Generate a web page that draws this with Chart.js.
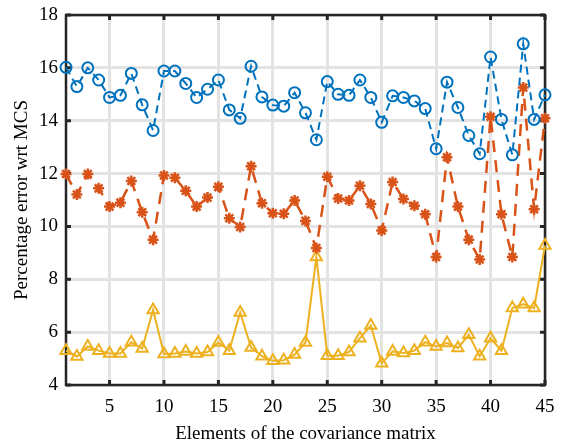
<!DOCTYPE html>
<html>
<head>
<meta charset="utf-8">
<script src="https://cdn.jsdelivr.net/npm/chart.js@4/dist/chart.umd.min.js"></script>
<style>
  html, body { margin: 0; padding: 0; background: #fff; }
  #wrap { width: 561px; height: 445px; }
</style>
</head>
<body>
<div id="wrap"><canvas id="err" width="561" height="445"></canvas></div>
<script>
// x = element index of the covariance matrix
let elements = []
for (let i = 1; i <= 45; i++) elements.push(i)

let blueErr = [16.02, 15.29, 16.0, 15.54, 14.88, 14.96, 15.79, 14.6, 13.63, 15.88,
  15.88, 15.41, 14.88, 15.19, 15.54, 14.41, 14.09, 16.06, 14.9, 14.59,
  14.55, 15.06, 14.3, 13.28, 15.48, 15.0, 14.96, 15.54, 14.88, 13.94,
  14.94, 14.88, 14.75, 14.46, 12.94, 15.46, 14.5, 13.44, 12.75, 16.41,
  14.05, 12.71, 16.91, 14.05, 14.98]

let orangeErr = [11.98, 11.21, 11.98, 11.44, 10.75, 10.9, 11.72, 10.54, 9.5, 11.93,
  11.84, 11.35, 10.75, 11.09, 11.5, 10.31, 9.98, 12.28, 10.88, 10.5,
  10.48, 10.98, 10.21, 9.18, 11.88, 11.06, 10.98, 11.54, 10.85, 9.85,
  11.68, 11.04, 10.78, 10.46, 8.84, 12.62, 10.75, 9.5, 8.75, 14.15,
  10.46, 8.84, 15.26, 10.65, 14.09]

let yellowErr = [5.3, 5.08, 5.46, 5.3, 5.19, 5.19, 5.62, 5.38, 6.84, 5.17,
  5.19, 5.27, 5.19, 5.25, 5.61, 5.3, 6.74, 5.42, 5.09, 4.92,
  4.94, 5.15, 5.61, 8.84, 5.11, 5.11, 5.25, 5.77, 6.25, 4.82,
  5.27, 5.21, 5.3, 5.62, 5.46, 5.59, 5.4, 5.9, 5.09, 5.77,
  5.3, 6.91, 7.06, 6.91, 9.28]

let xTicks = [5, 10, 15, 20, 25, 30, 35, 40, 45]
let yTicks = [4, 6, 8, 10, 12, 14, 16, 18]

function toPoints (vals) {
  return vals.map((v, i) => ({ x: elements[i], y: v }))
}

// MATLAB-like box with inward ticks on every side
const boxPlugin = {
  id: 'box',
  beforeDatasetsDraw (chart) {
    const { ctx, chartArea: a, scales } = chart
    ctx.save()
    ctx.strokeStyle = '#262626'
    ctx.lineWidth = 2.5
    ctx.strokeRect(a.left, a.top, a.right - a.left, a.bottom - a.top)
    ctx.lineWidth = 3
    const len = 5
    xTicks.forEach(t => {
      const px = scales.x.getPixelForValue(t)
      ctx.beginPath()
      ctx.moveTo(px, a.bottom); ctx.lineTo(px, a.bottom - len)
      ctx.moveTo(px, a.top); ctx.lineTo(px, a.top + len)
      ctx.stroke()
    })
    yTicks.forEach(t => {
      const py = scales.y.getPixelForValue(t)
      ctx.beginPath()
      ctx.moveTo(a.left, py); ctx.lineTo(a.left + len, py)
      ctx.moveTo(a.right, py); ctx.lineTo(a.right - len, py)
      ctx.stroke()
    })
    ctx.restore()
  }
}

const serif = 'Liberation Serif'

new Chart(document.getElementById('err').getContext('2d'), {
  type: 'line',
  data: {
    datasets: [
      {
        label: 'blue',
        data: toPoints(blueErr),
        borderColor: '#0072BD',
        borderWidth: 2,
        borderDash: [8, 5],
        pointStyle: 'circle',
        pointRadius: 5.5,
        pointBorderWidth: 2,
        pointBackgroundColor: 'rgba(0,0,0,0)',
        pointBorderColor: '#0072BD',
        tension: 0,
        clip: false
      },
      {
        label: 'orange',
        data: toPoints(orangeErr),
        borderColor: '#D95319',
        borderWidth: 2.5,
        borderDash: [12, 8],
        pointStyle: 'star',
        pointRadius: 5.5,
        pointBorderWidth: 2.5,
        pointBackgroundColor: '#D95319',
        pointBorderColor: '#D95319',
        tension: 0,
        clip: false
      },
      {
        label: 'yellow',
        data: toPoints(yellowErr),
        borderColor: '#EDB120',
        borderWidth: 2,
        pointStyle: 'triangle',
        pointRadius: 6.5,
        pointBorderWidth: 2,
        pointBackgroundColor: 'rgba(0,0,0,0)',
        pointBorderColor: '#EDB120',
        tension: 0,
        clip: false
      }
    ]
  },
  options: {
    responsive: false,
    animation: false,
    layout: { padding: { left: 0, right: 16, top: 15, bottom: 0 } },
    plugins: {
      legend: { display: false },
      tooltip: { enabled: false }
    },
    scales: {
      x: {
        type: 'linear',
        min: 1,
        max: 45,
        afterBuildTicks: axis => { axis.ticks = xTicks.map(v => ({ value: v })) },
        afterFit: axis => {
          axis.height = 60
          axis.paddingLeft = 0
          axis.paddingRight = 0
        },
        grid: { color: '#e3e3e3', lineWidth: 3, drawTicks: false },
        border: { display: false },
        ticks: {
          color: '#000',
          padding: 11,
          font: { family: serif, size: 19 },
          maxRotation: 0
        },
        title: {
          display: true,
          text: 'Elements of the covariance matrix',
          color: '#000',
          font: { family: serif, size: 19 },
          padding: { top: 0, bottom: 0 }
        }
      },
      y: {
        type: 'linear',
        min: 4,
        max: 18,
        afterBuildTicks: axis => { axis.ticks = yTicks.map(v => ({ value: v })) },
        afterFit: axis => {
          axis.width = 66
          axis.paddingTop = 0
          axis.paddingBottom = 0
        },
        grid: { color: '#e3e3e3', lineWidth: 3, drawTicks: false },
        border: { display: false },
        ticks: {
          color: '#000',
          padding: 8,
          font: { family: serif, size: 19 }
        },
        title: {
          display: true,
          text: 'Percentage error wrt MCS',
          color: '#000',
          font: { family: serif, size: 19 },
          padding: { top: 11, bottom: 0 }
        }
      }
    }
  },
  plugins: [boxPlugin]
})
</script>
</body>
</html>
